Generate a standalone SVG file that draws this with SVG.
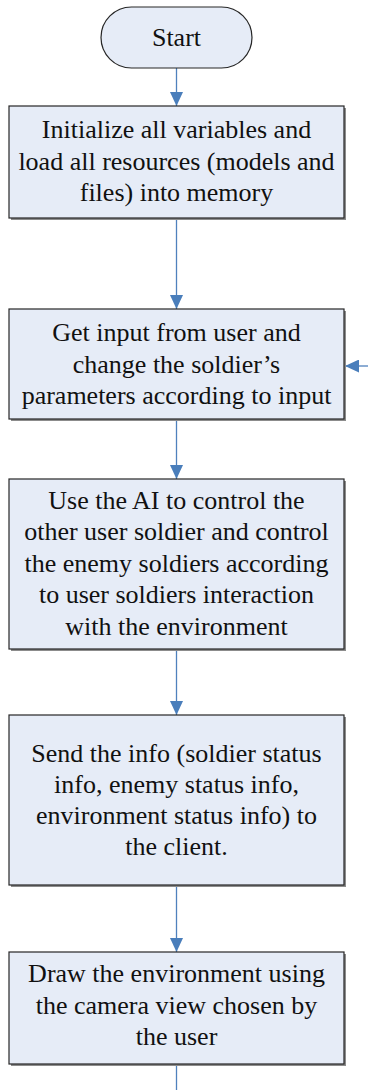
<svg xmlns="http://www.w3.org/2000/svg" width="368" height="1090" viewBox="0 0 368 1090">
  <style>
    .box { fill: #E6ECF7; stroke: #262626; stroke-width: 1.2; }
    .shadow { fill: #8C8C8C; }
    .lbl { font-family: 'Liberation Serif', serif !important; font-size: 26px; fill: #111; text-anchor: middle; }
    .wire { stroke: #4F81BD; stroke-width: 1.3; fill: none; }
  </style>
  <defs>
    <marker id="arrow" viewBox="0 0 14 13" refX="14" refY="6.5" markerWidth="14" markerHeight="13" markerUnits="userSpaceOnUse" orient="auto">
      <path d="M0,0 L14,6.5 L0,13 Z" fill="#4A7EBB"/>
    </marker>
  </defs>

  <rect x="0" y="0" width="368" height="1090" fill="#FFFFFF"/>

  <!-- connectors -->
  <g id="connectors">
    <line class="wire" x1="176.5" y1="68" x2="176.5" y2="106" marker-end="url(#arrow)"/>
    <line class="wire" x1="176.5" y1="218" x2="176.5" y2="309" marker-end="url(#arrow)"/>
    <line class="wire" x1="176.5" y1="419" x2="176.5" y2="479" marker-end="url(#arrow)"/>
    <line class="wire" x1="176.5" y1="649" x2="176.5" y2="715" marker-end="url(#arrow)"/>
    <line class="wire" x1="176.5" y1="885" x2="176.5" y2="952" marker-end="url(#arrow)"/>
    <line class="wire" x1="176.5" y1="1064" x2="176.5" y2="1090"/>
    <line class="wire" x1="368" y1="366" x2="345" y2="366" marker-end="url(#arrow)"/>
  </g>

  <!-- terminator -->
  <g id="start">
    <rect class="box" x="101" y="7" width="151" height="61" rx="30.5" ry="30.5"/>
    <text class="lbl" x="176.5" y="46" style="font-family: 'Liberation Serif', serif">Start</text>
  </g>

  <g id="init">
    <rect class="shadow" x="11" y="108" width="335" height="112"/>
    <rect class="box" x="9" y="106" width="335" height="112"/>
    <text class="lbl" x="176.5" y="138" style="font-family: 'Liberation Serif', serif">Initialize all variables and</text>
    <text class="lbl" x="176.5" y="169.5" style="font-family: 'Liberation Serif', serif">load all resources (models and</text>
    <text class="lbl" x="176.5" y="201" style="font-family: 'Liberation Serif', serif">files) into memory</text>
  </g>

  <g id="input">
    <rect class="shadow" x="11" y="311" width="335" height="110"/>
    <rect class="box" x="9" y="309" width="335" height="110"/>
    <text class="lbl" x="176.5" y="341" style="font-family: 'Liberation Serif', serif">Get input from user and</text>
    <text class="lbl" x="176.5" y="372.5" style="font-family: 'Liberation Serif', serif">change the soldier’s</text>
    <text class="lbl" x="176.5" y="404" style="font-family: 'Liberation Serif', serif">parameters according to input</text>
  </g>

  <g id="ai">
    <rect class="shadow" x="11" y="481" width="335" height="170"/>
    <rect class="box" x="9" y="479" width="335" height="170"/>
    <text class="lbl" x="176.5" y="508.5" style="font-family: 'Liberation Serif', serif">Use the AI to control the</text>
    <text class="lbl" x="176.5" y="540" style="font-family: 'Liberation Serif', serif">other user soldier and control</text>
    <text class="lbl" x="176.5" y="571.5" style="font-family: 'Liberation Serif', serif">the enemy soldiers according</text>
    <text class="lbl" x="176.5" y="603" style="font-family: 'Liberation Serif', serif">to user soldiers interaction</text>
    <text class="lbl" x="176.5" y="634.5" style="font-family: 'Liberation Serif', serif">with the environment</text>
  </g>

  <g id="send">
    <rect class="shadow" x="11" y="717" width="335" height="170"/>
    <rect class="box" x="9" y="715" width="335" height="170"/>
    <text class="lbl" x="176.5" y="762" style="font-family: 'Liberation Serif', serif">Send the info (soldier status</text>
    <text class="lbl" x="176.5" y="793" style="font-family: 'Liberation Serif', serif">info, enemy status info,</text>
    <text class="lbl" x="176.5" y="824" style="font-family: 'Liberation Serif', serif">environment status info) to</text>
    <text class="lbl" x="176.5" y="855" style="font-family: 'Liberation Serif', serif">the client.</text>
  </g>

  <g id="draw">
    <rect class="shadow" x="11" y="954" width="335" height="112"/>
    <rect class="box" x="9" y="952" width="335" height="112"/>
    <text class="lbl" x="176.5" y="982" style="font-family: 'Liberation Serif', serif">Draw the environment using</text>
    <text class="lbl" x="176.5" y="1013.5" style="font-family: 'Liberation Serif', serif">the camera view chosen by</text>
    <text class="lbl" x="176.5" y="1045" style="font-family: 'Liberation Serif', serif">the user</text>
  </g>
</svg>
